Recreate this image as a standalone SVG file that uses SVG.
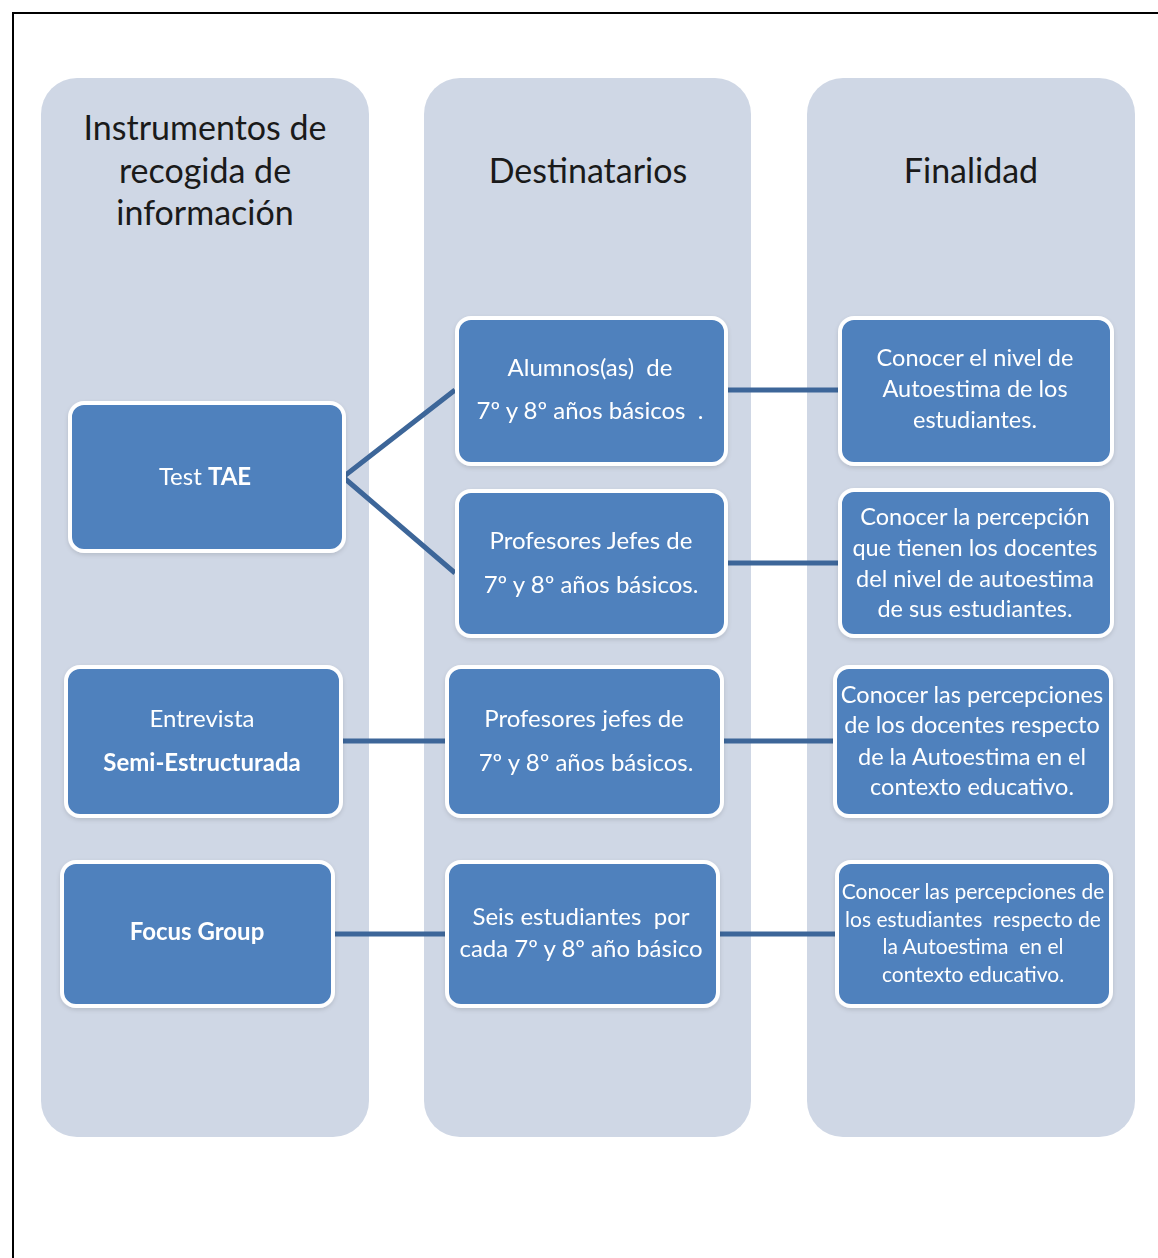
<svg xmlns="http://www.w3.org/2000/svg" width="1158" height="1258" viewBox="0 0 1158 1258">
  <style>
    .col { fill: #cfd7e5; }
    .head { font-family: Lato, "Open Sans", sans-serif; font-size: 34px; fill: #1a1a1a; text-anchor: middle; }
    .box { fill: #4f81bd; stroke: #ffffff; stroke-width: 4; }
    .t { font-family: Lato, "Open Sans", sans-serif; font-size: 24px; fill: #ffffff; text-anchor: middle; white-space: pre; }
    .tr { font-family: Lato, "Open Sans", sans-serif; font-size: 23.5px; fill: #ffffff; text-anchor: middle; white-space: pre; }
    .ts { font-family: Lato, "Open Sans", sans-serif; font-size: 21px; fill: #ffffff; text-anchor: middle; white-space: pre; }
    .b { font-weight: bold; }
    .link { stroke: #3d6699; stroke-width: 5; fill: none; }
  </style>
  <defs>
    <filter id="soft" x="-5%" y="-5%" width="110%" height="115%">
      <feDropShadow dx="0" dy="2" stdDeviation="2" flood-color="#000" flood-opacity="0.12"/>
    </filter>
  </defs>

  <rect width="1158" height="1258" fill="#ffffff"/>
  <!-- page frame -->
  <path d="M13 1258 V13 H1158" fill="none" stroke="#000" stroke-width="2"/>

  <!-- column panels -->
  <g id="col-instrumentos">
    <rect class="col" x="41" y="78" width="328" height="1059" rx="36"/>
    <text class="head" x="205" y="140">Instrumentos de</text>
    <text class="head" x="205" y="183">recogida de</text>
    <text class="head" x="205" y="225">información</text>
  </g>
  <g id="col-destinatarios">
    <rect class="col" x="424" y="78" width="327" height="1059" rx="36"/>
    <text class="head" x="588" y="183">Destinatarios</text>
  </g>
  <g id="col-finalidad">
    <rect class="col" x="807" y="78" width="328" height="1059" rx="36"/>
    <text class="head" x="971" y="183">Finalidad</text>
  </g>

  <!-- connectors -->
  <g id="connectors">
    <polyline class="link" points="455,390 343,477 455,573"/>
    <line class="link" x1="727" y1="390" x2="838" y2="390"/>
    <line class="link" x1="727" y1="563" x2="838" y2="563"/>
    <line class="link" x1="342" y1="741" x2="445" y2="741"/>
    <line class="link" x1="723" y1="741" x2="833" y2="741"/>
    <line class="link" x1="334" y1="934" x2="445" y2="934"/>
    <line class="link" x1="719" y1="934" x2="835" y2="934"/>
  </g>

  <!-- instruments -->
  <g id="n-test-tae" filter="url(#soft)">
    <rect class="box" x="70" y="403" width="274" height="148" rx="14"/>
    <text class="t" x="205" y="485">Test <tspan class="b">TAE</tspan></text>
  </g>
  <g id="n-entrevista" filter="url(#soft)">
    <rect class="box" x="66" y="667" width="275" height="149" rx="14"/>
    <text class="t" x="202" y="727">Entrevista</text>
    <text class="t b" x="202" y="771">Semi-Estructurada</text>
  </g>
  <g id="n-focus" filter="url(#soft)">
    <rect class="box" x="62" y="862" width="271" height="144" rx="14"/>
    <text class="t b" x="197" y="940">Focus Group</text>
  </g>

  <!-- recipients -->
  <g id="n-alumnos" filter="url(#soft)">
    <rect class="box" x="457" y="318" width="269" height="146" rx="14"/>
    <text class="t" x="590" y="376">Alumnos(as)  de</text>
    <text class="t" x="590" y="419">7º y 8º años básicos  .</text>
  </g>
  <g id="n-profesores-jefes-1" filter="url(#soft)">
    <rect class="box" x="457" y="491" width="269" height="145" rx="14"/>
    <text class="t" x="591" y="549">Profesores Jefes de</text>
    <text class="t" x="591" y="593">7º y 8º años básicos.</text>
  </g>
  <g id="n-profesores-jefes-2" filter="url(#soft)">
    <rect class="box" x="447" y="667" width="275" height="149" rx="14"/>
    <text class="t" x="584" y="727">Profesores jefes de</text>
    <text class="t" x="586" y="771">7º y 8º años básicos.</text>
  </g>
  <g id="n-seis-estudiantes" filter="url(#soft)">
    <rect class="box" x="447" y="862" width="271" height="144" rx="14"/>
    <text class="t" x="581" y="925">Seis estudiantes  por</text>
    <text class="t" x="581" y="957">cada 7º y 8º año básico</text>
  </g>

  <!-- purposes -->
  <g id="n-fin-nivel" filter="url(#soft)">
    <rect class="box" x="840" y="318" width="272" height="146" rx="14"/>
    <text class="tr" x="975" y="366">Conocer el nivel de</text>
    <text class="tr" x="975" y="397">Autoestima de los</text>
    <text class="tr" x="975" y="428">estudiantes.</text>
  </g>
  <g id="n-fin-percepcion" filter="url(#soft)">
    <rect class="box" x="840" y="490" width="272" height="146" rx="14"/>
    <text class="tr" x="975" y="525">Conocer la percepción</text>
    <text class="tr" x="975" y="556">que tienen los docentes</text>
    <text class="tr" x="975" y="587">del nivel de autoestima</text>
    <text class="tr" x="975" y="617">de sus estudiantes.</text>
  </g>
  <g id="n-fin-docentes" filter="url(#soft)">
    <rect class="box" x="835" y="667" width="276" height="149" rx="14"/>
    <text class="tr" x="972" y="703">Conocer las percepciones</text>
    <text class="tr" x="972" y="733">de los docentes respecto</text>
    <text class="tr" x="972" y="765">de la Autoestima en el</text>
    <text class="tr" x="972" y="795">contexto educativo.</text>
  </g>
  <g id="n-fin-estudiantes" filter="url(#soft)">
    <rect class="box" x="837" y="862" width="274" height="144" rx="14"/>
    <text class="ts" x="973" y="899">Conocer las percepciones de</text>
    <text class="ts" x="973" y="927">los estudiantes  respecto de</text>
    <text class="ts" x="973" y="954">la Autoestima  en el</text>
    <text class="ts" x="973" y="982">contexto educativo.</text>
  </g>
</svg>
